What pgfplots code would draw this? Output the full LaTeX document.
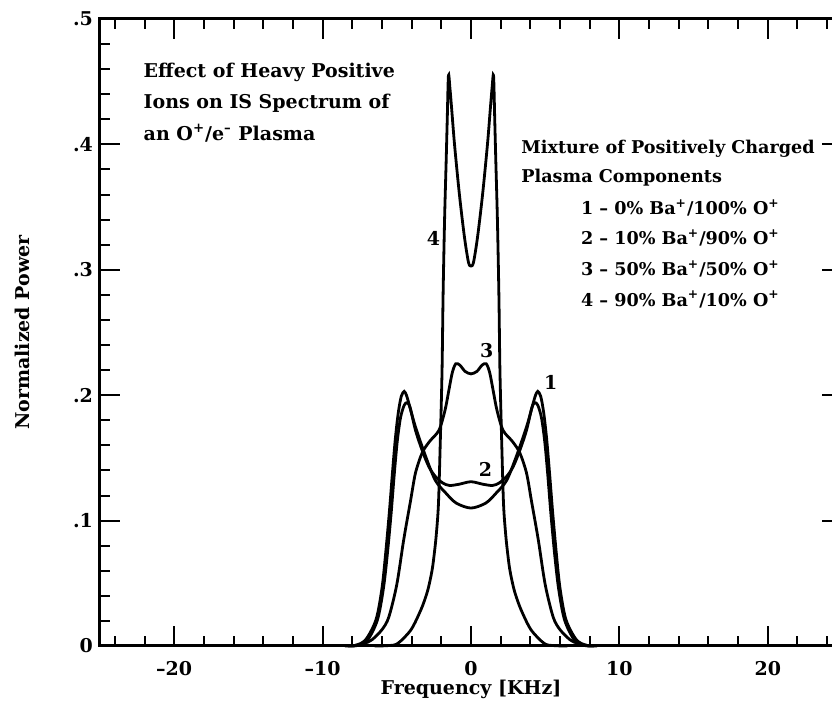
\documentclass[border=0pt]{standalone}
\usepackage{fontspec}
\setmainfont{DejaVu Serif}
\usepackage{pgfplots}
\pgfplotsset{compat=1.18}
\usepackage{pgfplotstable}

% 1 - 0% Ba+
\pgfplotstableread{
f v
-8.5 0
-7.8 0.0005
-7.1 0.005
-6.4 0.021
-6.0 0.046
-5.75 0.074
-5.5 0.107
-5.3 0.137
-5.1 0.165
-4.9 0.186
-4.7 0.199
-4.5 0.203
-4.35 0.200
-4.2 0.194
-3.75 0.175
-3.05 0.151
-2.4 0.132
-1.7 0.122
-1.0 0.114
0 0.110
1.0 0.114
1.7 0.122
2.4 0.132
3.05 0.151
3.75 0.175
4.2 0.194
4.35 0.200
4.5 0.203
4.7 0.199
4.9 0.186
5.1 0.165
5.3 0.137
5.5 0.107
5.75 0.074
6.0 0.046
6.4 0.021
7.1 0.005
7.8 0.0005
8.5 0
}\curveone

% 2 - 10% Ba+
\pgfplotstableread{
f v
-8.3 0
-7.6 0.0005
-6.95 0.005
-6.3 0.021
-5.9 0.046
-5.63 0.074
-5.38 0.106
-5.17 0.137
-4.97 0.163
-4.75 0.182
-4.5 0.192
-4.3 0.194
-4.1 0.190
-3.74 0.172
-3.29 0.156
-2.84 0.143
-2.39 0.135
-1.9 0.130
-1.45 0.128
-0.8 0.129
0 0.131
0.8 0.129
1.45 0.128
1.9 0.130
2.39 0.135
2.84 0.143
3.29 0.156
3.74 0.172
4.1 0.190
4.3 0.194
4.5 0.192
4.75 0.182
4.97 0.163
5.17 0.137
5.38 0.106
5.63 0.074
5.9 0.046
6.3 0.021
6.95 0.005
7.6 0.0005
8.3 0
}\curvetwo

% 3 - 50% Ba+
\pgfplotstableread{
f v
-8.0 0
-7.2 0.002
-6.67 0.005
-6.0 0.013
-5.54 0.023
-5.0 0.049
-4.53 0.085
-4.07 0.116
-3.74 0.138
-3.29 0.154
-2.8 0.163
-2.16 0.172
-1.75 0.188
-1.49 0.204
-1.26 0.218
-1.03 0.225
-0.75 0.224
-0.4 0.219
0 0.217
0.4 0.219
0.75 0.224
1.03 0.225
1.26 0.218
1.49 0.204
1.75 0.188
2.16 0.172
2.8 0.163
3.29 0.154
3.74 0.138
4.07 0.116
4.53 0.085
5.0 0.049
5.54 0.023
6.0 0.013
6.67 0.005
7.2 0.002
8.0 0
}\curvethree

% 4 - 90% Ba+
\pgfplotstableread{
f v
-6.5 0
-5.6 0.0003
-4.94 0.002
-4.04 0.013
-3.37 0.029
-3.0 0.041
-2.8 0.050
-2.6 0.062
-2.45 0.076
-2.33 0.090
-2.19 0.114
-2.06 0.167
-1.95 0.22
-1.88 0.28
-1.78 0.34
-1.67 0.388
-1.6 0.42
-1.52 0.455
-1.42 0.445
-1.3 0.428
-1.11 0.40
-0.78 0.36
-0.44 0.326
-0.17 0.306
0 0.303
0.17 0.306
0.44 0.326
0.78 0.36
1.11 0.40
1.3 0.428
1.42 0.445
1.52 0.455
1.6 0.42
1.67 0.388
1.78 0.34
1.88 0.28
1.95 0.22
2.06 0.167
2.19 0.114
2.33 0.090
2.45 0.076
2.6 0.062
2.8 0.050
3.0 0.041
3.37 0.029
4.04 0.013
4.94 0.002
5.6 0.0003
6.5 0
}\curvefour

\newcommand{\lbl}{\bfseries\fontsize{9.5}{11}\selectfont}
\newcommand{\keyf}{\bfseries\fontsize{8.8}{10}\selectfont}

\begin{document}
\begin{tikzpicture}
\begin{axis}[
  scale only axis, width=371pt, height=313.5pt,
  xmin=-25, xmax=25, ymin=0, ymax=0.5,
  xtick={-20,-10,0,10,20}, xticklabels={--20,--10,0,10,20},
  ytick={0,0.1,0.2,0.3,0.4,0.5}, yticklabels={0,.1,.2,.3,.4,.5},
  minor xtick={-24,-22,...,24},
  minor ytick={0.02,0.04,0.06,0.08,0.12,0.14,0.16,0.18,0.22,0.24,0.26,0.28,0.32,0.34,0.36,0.38,0.42,0.44,0.46,0.48},
  tick align=inside,
  major tick length=10pt, minor tick length=5pt,
  tick style={black, line width=1pt},
  axis line style={line width=1.5pt},
  ticklabel style={font=\lbl},
  xticklabel style={yshift=-4pt},
  clip=false,
]
\coordinate (sw) at (rel axis cs:0,0);

\addplot[black, line width=1.4pt, smooth, tension=0.5] table[x=f, y=v] {\curveone};
\addplot[black, line width=1.4pt, smooth, tension=0.5] table[x=f, y=v] {\curvetwo};
\addplot[black, line width=1.4pt, smooth, tension=0.5] table[x=f, y=v] {\curvethree};
\addplot[black, line width=1.4pt, smooth, tension=0.5] table[x=f, y=v] {\curvefour};

% title block
\node[anchor=base west, inner sep=0pt, font=\lbl] at (axis cs:-22.08,0.4537) {Effect of Heavy Positive};
\node[anchor=base west, inner sep=0pt, font=\lbl] at (axis cs:-22.08,0.4286) {Ions on IS Spectrum of};
\node[anchor=base west, inner sep=0pt, font=\lbl] at (axis cs:-22.08,0.4035) {an O\textsuperscript{+}/e\textsuperscript{--} Plasma};

% composition key
\node[anchor=base west, inner sep=0pt, font=\keyf] at (axis cs:3.37,0.3931) {Mixture of Positively Charged};
\node[anchor=base west, inner sep=0pt, font=\keyf] at (axis cs:3.37,0.3700) {Plasma Components};
\node[anchor=base west, inner sep=0pt, font=\keyf] at (axis cs:7.39,0.3437) {1 -- 0\% Ba\textsuperscript{+}/100\% O\textsuperscript{+}};
\node[anchor=base west, inner sep=0pt, font=\keyf] at (axis cs:7.39,0.3198) {2 -- 10\% Ba\textsuperscript{+}/90\% O\textsuperscript{+}};
\node[anchor=base west, inner sep=0pt, font=\keyf] at (axis cs:7.39,0.2951) {3 -- 50\% Ba\textsuperscript{+}/50\% O\textsuperscript{+}};
\node[anchor=base west, inner sep=0pt, font=\keyf] at (axis cs:7.39,0.2711) {4 -- 90\% Ba\textsuperscript{+}/10\% O\textsuperscript{+}};

% curve numbers
\node[font=\lbl] at (axis cs:5.37,0.2101) {1};
\node[font=\lbl] at (axis cs:0.98,0.1411) {2};
\node[font=\lbl] at (axis cs:1.06,0.2354) {3};
\node[font=\lbl] at (axis cs:-2.53,0.3246) {4};

% axis labels
\node[anchor=base, font=\lbl] at (axis cs:0,-0.039) {Frequency [KHz]};
\node[anchor=base, rotate=90, font=\lbl] at (axis cs:-29.72,0.25) {Normalized Power};
\end{axis}
\pgfresetboundingbox
\path[use as bounding box] (sw) ++(-50pt,-27.5pt) rectangle ++(416pt,350.5pt);
\end{tikzpicture}
\end{document}
